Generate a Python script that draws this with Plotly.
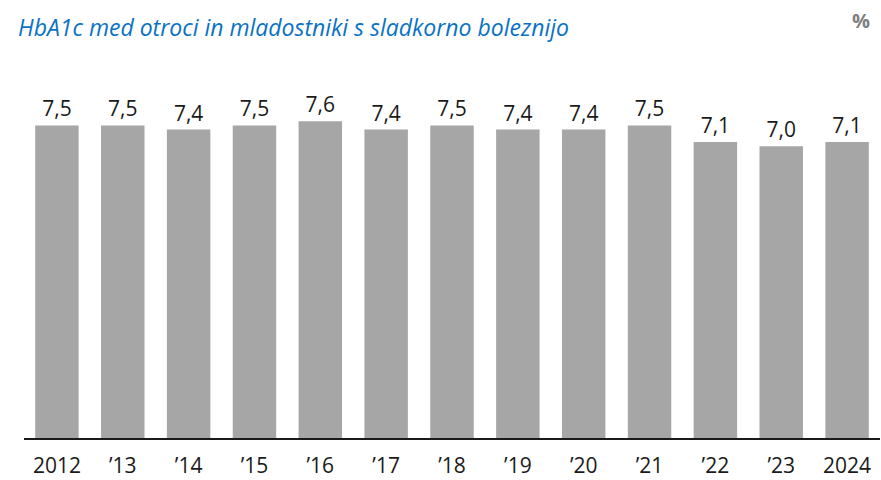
import plotly.graph_objects as go

years = ["2012", "\u201913", "\u201914", "\u201915", "\u201916", "\u201917", "\u201918",
         "\u201919", "\u201920", "\u201921", "\u201922", "\u201923", "2024"]
hba1c = [7.5, 7.5, 7.4, 7.5, 7.6, 7.4, 7.5, 7.4, 7.4, 7.5, 7.1, 7.0, 7.1]

fig = go.Figure()
fig.add_trace(go.Bar(
    x=years, y=hba1c,
    marker=dict(color="#a6a6a6", line=dict(width=0)),
    texttemplate="%{y:.1f}",
    textposition="outside",
    textfont=dict(size=21, color="#1a1a1a", family="Open Sans"),
    cliponaxis=False,
    hoverinfo="skip",
))

fig.update_layout(
    width=881, height=480,
    margin=dict(l=24, r=1, t=60, b=38),
    plot_bgcolor="white", paper_bgcolor="white",
    separators=",.",
    bargap=0.34,
    showlegend=False,
    font=dict(family="Open Sans", color="#1a1a1a"),
)
fig.update_xaxes(
    showline=True, linecolor="#1a1a1a", linewidth=1.5,
    ticks="", tickfont=dict(size=21), ticklabelstandoff=8,
    showgrid=False,
)
fig.update_yaxes(range=[0, 9.07], visible=False, showgrid=False)

fig.add_annotation(
    text="<i>HbA1c med otroci in mladostniki s sladkorno boleznijo</i>",
    xref="paper", yref="paper", x=-8/856, y=1 + 33/382,
    xanchor="left", yanchor="middle", showarrow=False,
    font=dict(size=23, color="#0a72c4", family="Open Sans"),
)
fig.add_annotation(
    text="<b>%</b>",
    xref="paper", yref="paper", x=1 - 19/856, y=1 + 40/382,
    xanchor="center", yanchor="middle", showarrow=False,
    font=dict(size=20, color="#7f7f7f", family="Open Sans"),
)

fig.write_html("out.html", config={"displayModeBar": False},
               post_script="document.body.style.margin='0';")
